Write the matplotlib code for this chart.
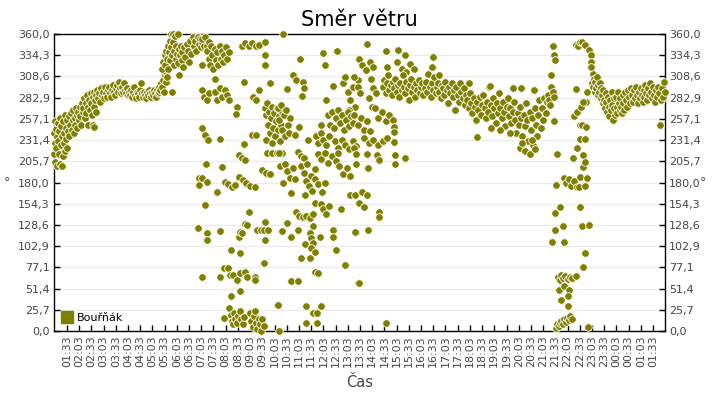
import matplotlib
matplotlib.use("Agg")
import matplotlib.pyplot as plt
from matplotlib.ticker import FixedLocator, FuncFormatter
from matplotlib.lines import Line2D

# čas v hodinách od půlnoci prvního dne (po půlnoci > 24), směr ve stupních
rano = [
    (1.03, 214), (1.04, 240), (1.05, 255), (1.07, 228), (1.08, 205), (1.10, 222), (1.12, 245),
    (1.14, 235), (1.15, 200), (1.17, 252), (1.19, 230), (1.21, 215), (1.23, 242), (1.25, 258),
    (1.27, 203), (1.29, 225), (1.32, 248), (1.34, 236), (1.36, 200), (1.38, 212), (1.40, 255),
    (1.42, 240), (1.44, 228), (1.46, 262), (1.48, 218), (1.50, 246), (1.52, 233), (1.55, 256),
    (1.57, 222), (1.60, 242), (1.62, 260), (1.65, 236), (1.68, 250), (1.72, 264), (1.75, 244),
    (1.78, 256), (1.80, 268), (1.83, 240), (1.86, 258), (1.89, 250), (1.92, 270), (1.95, 262),
    (1.98, 246), (2.01, 266), (2.04, 256), (2.07, 272), (2.10, 260), (2.13, 250), (2.16, 276),
    (2.19, 266), (2.22, 270), (2.25, 282), (2.28, 258), (2.31, 276), (2.34, 264), (2.37, 286),
    (2.40, 272), (2.43, 250), (2.46, 280), (2.49, 268), (2.52, 288), (2.55, 276), (2.58, 262),
    (2.61, 284), (2.62, 250), (2.64, 272), (2.66, 247), (2.67, 290), (2.70, 280), (2.73, 266),
    (2.76, 286), (2.80, 292), (2.84, 282), (2.88, 288), (2.92, 278), (2.96, 294), (3.00, 286),
    (3.04, 290), (3.08, 282), (3.12, 296), (3.16, 288), (3.20, 284), (3.24, 292), (3.28, 296),
    (3.32, 288), (3.36, 284), (3.40, 292), (3.44, 298), (3.48, 290), (3.52, 286), (3.56, 294),
    (3.60, 298), (3.64, 290), (3.68, 302), (3.72, 294), (3.76, 288), (3.80, 296), (3.84, 290),
    (3.88, 300), (3.92, 292), (3.96, 288), (4.00, 294), (4.04, 286), (4.08, 290), (4.14, 286),
    (4.18, 292), (4.22, 284), (4.26, 290), (4.30, 296), (4.34, 286), (4.38, 282), (4.42, 290),
    (4.46, 288), (4.50, 284), (4.54, 292), (4.58, 300), (4.62, 288), (4.66, 284), (4.70, 290),
    (4.74, 286), (4.78, 282), (4.82, 290), (4.86, 286), (4.90, 292), (4.94, 288), (4.98, 284),
    (5.02, 290), (5.06, 286), (5.10, 292), (5.14, 288), (5.18, 284), (5.22, 292), (5.26, 288),
    (5.30, 290), (5.34, 296), (5.38, 292), (5.42, 300), (5.46, 296), (5.50, 304), (5.52, 290),
    (5.56, 310), (5.60, 302), (5.62, 314), (5.66, 308), (5.85, 290),
    (5.45, 318), (5.50, 326), (5.55, 334), (5.58, 322), (5.62, 340), (5.65, 330), (5.68, 346),
    (5.70, 318), (5.72, 338), (5.75, 352), (5.78, 328), (5.80, 360), (5.82, 344), (5.85, 334),
    (5.88, 360), (5.90, 350), (5.92, 322), (5.95, 340), (5.98, 358), (6.00, 330), (6.02, 346),
    (6.05, 336), (6.08, 360), (6.10, 325), (6.12, 342), (6.15, 310), (6.18, 334), (6.22, 346),
    (6.25, 328), (6.28, 338), (6.32, 320), (6.35, 344), (6.40, 332), (6.45, 348), (6.50, 340),
    (6.55, 326), (6.60, 352), (6.65, 336), (6.70, 356), (6.75, 346), (6.80, 352), (6.85, 340),
    (6.90, 356), (6.95, 348), (7.00, 354), (7.05, 344), (7.10, 350), (7.15, 346),
]

boure = [
    (7.08, 354), (7.20, 356), (7.28, 346), (7.36, 350), (7.30, 340), (7.35, 330), (7.40, 322),
    (7.45, 345), (7.50, 335), (7.55, 318), (7.60, 342), (7.65, 328), (7.70, 338), (7.75, 322),
    (7.80, 346), (7.85, 330), (7.90, 340), (7.95, 326), (8.00, 334), (8.05, 344), (8.12, 330),
    (8.18, 338), (7.08, 322), (7.61, 305), (7.08, 292), (7.16, 284), (7.28, 280), (7.36, 288),
    (7.61, 290), (7.69, 280), (7.82, 294), (7.90, 284), (8.02, 292), (8.10, 286), (8.20, 280),
    (8.72, 346), (8.85, 349), (9.00, 345), (9.13, 349), (9.30, 345), (9.41, 347), (9.66, 350),
    (9.66, 335), (9.66, 322), (8.80, 302), (9.86, 300), (9.41, 292), (9.15, 284), (9.30, 280),
    (8.51, 271), (8.48, 263),
    (9.66, 270), (9.70, 262), (9.74, 276), (9.78, 250), (9.82, 266), (9.86, 240), (9.90, 258),
    (9.94, 272), (9.98, 246), (10.02, 264), (10.07, 236), (10.11, 254), (10.15, 270),
    (10.19, 244), (10.23, 260), (10.27, 230), (10.31, 250), (10.35, 266), (9.72, 232), (9.95, 228),
    (7.10, 246), (7.22, 238), (7.32, 232), (7.82, 233), (8.80, 227), (9.13, 238), (9.30, 238),
    (8.59, 213), (8.72, 210), (8.84, 207), (9.74, 216), (9.94, 216), (10.15, 216), (10.35, 216),
    (7.24, 202), (7.90, 199), (9.54, 195), (9.70, 192), (9.86, 190), (10.27, 200),
    (6.95, 185), (6.95, 177), (7.08, 185), (7.28, 181), (7.69, 168), (8.02, 181), (8.15, 178),
    (8.31, 175), (8.43, 177), (8.59, 187), (8.75, 183), (8.90, 179), (9.05, 176), (9.25, 175),
    (7.20, 153), (9.00, 144), (6.91, 125), (8.59, 114), (8.63, 120), (8.72, 119), (8.84, 130),
    (8.92, 128), (9.66, 132), (9.33, 122), (9.50, 122), (9.62, 122), (9.80, 122), (9.66, 110),
    (7.28, 119), (7.28, 110), (7.82, 121), (10.35, 121), (8.27, 98), (8.63, 95), (9.62, 82),
    (7.98, 76), (8.15, 76), (8.23, 68), (7.08, 65), (7.82, 65), (8.35, 68), (8.50, 62),
    (8.65, 70), (8.84, 72), (8.92, 65), (9.25, 65), (9.25, 62), (8.27, 42), (8.63, 48),
    (10.15, 32), (7.98, 16),
    (8.18, 28), (8.25, 20), (8.30, 12), (8.35, 8), (8.40, 22), (8.45, 15), (8.50, 10),
    (8.55, 18), (8.62, 24), (8.68, 14), (8.75, 8), (8.82, 17),
    (9.04, 22), (9.10, 12), (9.15, 5), (9.20, 18), (9.25, 24), (9.30, 10), (9.35, 2),
    (9.40, 15), (9.45, 8), (9.50, 0), (9.55, 14), (9.62, 6), (10.23, 0),
    (10.40, 360), (11.09, 330), (12.03, 337), (12.12, 322), (12.61, 339), (10.80, 310),
    (10.95, 304), (11.21, 302), (11.25, 294), (10.56, 293), (11.17, 285), (12.16, 280),
    (12.44, 297), (12.85, 300), (12.95, 308), (13.05, 290), (13.15, 280), (13.25, 296),
    (13.35, 272), (13.45, 304), (13.10, 268),
    (10.19, 270), (10.25, 256), (10.30, 274), (10.36, 244), (10.42, 262), (10.48, 236),
    (10.54, 268), (10.60, 250), (10.66, 240), (10.70, 258),
    (12.24, 262), (12.32, 250), (12.40, 266), (12.48, 246), (12.56, 258), (12.64, 268),
    (12.72, 252), (12.80, 262), (12.88, 244), (12.96, 256), (13.04, 266), (13.12, 248),
    (13.20, 260), (13.28, 252), (11.05, 247), (10.89, 238), (11.42, 232),
    (11.75, 236), (11.85, 228), (11.95, 240), (12.05, 232), (12.15, 226), (12.30, 236),
    (12.52, 230), (12.65, 222), (12.80, 232), (12.95, 226), (13.10, 220), (13.25, 230),
    (13.40, 224), (11.95, 250), (10.23, 216), (11.01, 217), (11.15, 212), (11.25, 210),
    (11.83, 214), (11.95, 208), (12.10, 216), (12.25, 204), (12.40, 212), (12.55, 206),
    (12.65, 216), (10.48, 202), (10.58, 194), (10.68, 186), (10.80, 198), (10.89, 184),
    (11.13, 200), (11.25, 192), (11.40, 202), (11.55, 188), (11.70, 196), (12.70, 200),
    (12.85, 190), (13.00, 198), (13.15, 188), (10.40, 179), (11.34, 182), (11.45, 176),
    (11.58, 170), (11.70, 184), (11.85, 178), (12.00, 168), (12.10, 180), (10.72, 167),
    (11.30, 165), (13.14, 165), (11.71, 155), (11.95, 154), (12.05, 148), (12.15, 142),
    (12.28, 152), (12.77, 148), (10.93, 144), (11.05, 140), (11.20, 138), (11.35, 139),
    (11.50, 137), (11.62, 142), (10.56, 131), (11.62, 127), (10.35, 121), (10.72, 114),
    (11.01, 122), (12.44, 122), (12.44, 114), (13.38, 120), (11.50, 119), (11.55, 113),
    (11.62, 107), (11.91, 114), (11.30, 105), (11.54, 101), (11.71, 96), (11.50, 88),
    (11.13, 88), (12.57, 98), (11.71, 72), (11.85, 70), (12.93, 80), (10.72, 61), (11.01, 61),
    (13.47, 58), (10.19, 32), (11.34, 30), (11.95, 30), (11.62, 22), (11.79, 22), (11.34, 10),
    (11.79, 10),
    (13.84, 348), (14.61, 340), (15.10, 341), (15.40, 335), (13.51, 330), (13.65, 322),
    (13.80, 316), (13.95, 326), (14.10, 320), (14.65, 320), (15.06, 326), (15.25, 318),
    (15.45, 314), (15.60, 324), (15.76, 318), (13.30, 308), (13.45, 296), (13.55, 288),
    (14.00, 306), (14.10, 294), (14.22, 288), (13.92, 282), (14.05, 272), (13.32, 262),
    (13.45, 250), (13.58, 258), (13.70, 244), (13.85, 254), (13.98, 242), (14.15, 270),
    (14.30, 258), (14.45, 266), (14.60, 254), (14.75, 262), (14.90, 256), (14.94, 247),
    (14.94, 241), (13.71, 234), (13.90, 228), (14.10, 232), (14.30, 226), (14.50, 230),
    (14.65, 234), (14.94, 229), (13.30, 222), (13.40, 214), (13.84, 214), (14.25, 213),
    (14.33, 207), (15.00, 213), (15.39, 210), (13.38, 202), (13.88, 198), (14.98, 202),
    (13.34, 165), (13.63, 168), (13.84, 165), (13.51, 155), (13.70, 150), (14.33, 144),
    (14.33, 138), (13.34, 120), (13.88, 122), (13.51, 58), (14.61, 10),
]

odpoledne = [
    (14.50, 296), (14.55, 304), (14.60, 288), (14.65, 300), (14.70, 310), (14.75, 292),
    (14.80, 298), (14.85, 286), (14.90, 302), (14.95, 294), (15.00, 306), (15.05, 290),
    (15.10, 298), (15.15, 284), (15.20, 300), (15.25, 292), (15.30, 310), (15.35, 296),
    (15.40, 288), (15.45, 302), (15.50, 294), (15.55, 280), (15.60, 298), (15.65, 306),
    (15.70, 290), (15.75, 296), (15.80, 284), (15.85, 300), (15.90, 292), (15.95, 304),
    (16.00, 288), (16.05, 296), (16.10, 300), (16.15, 286), (16.20, 294), (16.25, 302),
    (16.30, 290), (16.35, 312), (16.40, 296), (16.45, 284), (16.50, 300), (16.55, 292),
    (16.60, 308), (16.65, 288), (16.70, 296), (16.75, 300), (16.80, 290), (16.85, 282),
    (16.90, 298), (16.95, 294), (17.00, 286), (17.05, 302), (17.10, 292), (17.15, 276),
    (17.20, 296), (17.25, 288), (17.30, 300), (17.35, 284), (17.40, 292), (17.45, 268),
    (17.50, 296), (17.55, 286), (17.60, 278), (17.65, 300), (17.70, 290), (17.75, 282),
    (17.80, 294), (17.85, 274), (17.90, 286), (17.95, 280), (18.00, 270), (18.05, 288),
    (18.10, 276), (18.15, 264), (18.20, 282), (18.25, 272), (18.30, 256), (18.35, 278),
    (18.40, 268), (18.45, 284), (18.50, 262), (18.55, 274), (18.60, 286), (18.65, 270),
    (18.70, 258), (18.75, 278), (18.80, 266), (18.85, 296), (18.90, 274), (18.95, 260),
    (19.00, 282), (19.05, 270), (19.10, 252), (19.15, 276), (19.20, 264), (19.25, 288),
    (19.30, 270), (19.35, 258), (19.40, 278), (19.45, 266), (19.50, 248), (19.55, 272),
    (19.60, 282), (19.65, 260), (19.70, 270), (19.75, 252), (19.80, 266), (19.85, 278),
    (19.90, 256), (19.95, 240), (20.00, 264), (20.05, 250), (20.10, 272), (20.15, 258),
    (20.20, 236), (20.25, 262), (20.30, 248), (20.35, 276), (20.40, 256), (20.45, 230),
    (20.50, 266), (20.55, 244), (20.60, 258), (20.65, 226), (20.70, 270), (20.75, 250),
    (20.80, 236), (20.85, 262), (20.90, 280), (20.95, 246), (21.00, 270), (21.05, 256),
    (21.10, 282), (21.15, 264), (21.20, 278), (21.25, 286), (21.30, 280), (21.35, 274),
    (18.34, 235), (16.50, 320), (16.54, 332), (16.77, 310), (20.10, 222), (20.30, 218),
    (20.50, 214), (20.70, 220), (20.20, 228), (20.60, 232), (19.70, 240), (18.90, 246),
    (19.30, 244), (19.80, 294), (20.14, 294), (20.67, 292), (18.87, 297), (18.00, 300),
]

vecer = [
    (21.45, 345), (21.50, 335), (21.55, 328), (21.37, 310), (21.37, 296), (21.45, 290),
    (21.50, 284), (21.49, 255), (21.61, 214), (21.57, 177), (21.90, 186), (22.00, 180),
    (22.10, 184), (22.20, 176), (22.30, 182), (22.45, 174), (21.74, 150), (21.53, 143),
    (21.86, 127), (21.53, 122), (21.41, 108), (21.90, 108), (21.65, 66), (21.72, 62),
    (21.80, 68), (21.88, 64), (21.95, 67), (22.05, 63), (22.15, 66), (22.25, 64), (22.40, 67),
    (21.70, 50), (21.78, 38), (21.92, 55), (22.12, 50), (22.05, 42), (22.08, 30),
    (21.57, 4), (21.62, 8), (21.68, 6), (21.74, 10), (21.80, 12), (21.86, 9), (21.92, 14),
    (21.98, 11), (22.04, 16), (22.10, 13), (22.16, 18), (22.22, 15),
    (22.40, 347), (22.48, 345), (22.56, 350), (22.64, 350), (22.76, 347), (22.93, 341),
    (23.01, 335), (23.01, 326), (23.03, 320), (22.40, 293), (22.32, 260), (22.45, 266),
    (22.58, 272), (22.80, 278), (22.56, 250), (22.56, 233), (22.75, 233), (22.44, 222),
    (22.27, 210), (22.69, 213), (22.69, 199), (22.56, 187), (22.52, 175), (22.56, 150),
    (22.64, 127), (22.93, 128), (22.76, 95), (22.68, 78), (22.89, 5), (22.84, 290),
    (22.70, 278), (22.64, 250), (22.80, 247), (22.76, 205), (22.84, 185), (22.76, 176),
]

noc = [
    (23.05, 300), (23.08, 312), (23.10, 296), (23.13, 306), (23.16, 290), (23.19, 302),
    (23.22, 294), (23.25, 308), (23.28, 286), (23.31, 298), (23.34, 290), (23.37, 300),
    (23.40, 282), (23.43, 294), (23.46, 286), (23.49, 276), (23.52, 292), (23.55, 280),
    (23.58, 270), (23.61, 288), (23.64, 278), (23.67, 266), (23.70, 284), (23.73, 272),
    (23.76, 260), (23.79, 280), (23.82, 268), (23.85, 290), (23.88, 274), (23.91, 256),
    (23.94, 282), (23.97, 270), (24.00, 262), (24.03, 284), (24.06, 272), (24.09, 264),
    (24.12, 290), (24.15, 276), (24.18, 268), (24.21, 282), (24.24, 272), (24.27, 264),
    (24.30, 286), (24.33, 276), (24.36, 268), (24.40, 290), (24.44, 280), (24.48, 272),
    (24.52, 292), (24.56, 284), (24.60, 276), (24.64, 294), (24.68, 286), (24.72, 278),
    (24.76, 292), (24.80, 282), (24.84, 296), (24.88, 286), (24.92, 276), (24.96, 290),
    (25.00, 282), (25.04, 294), (25.08, 286), (25.12, 278), (25.16, 292), (25.20, 284),
    (25.24, 298), (25.28, 288), (25.32, 280), (25.36, 294), (25.40, 286), (25.44, 300),
    (25.48, 290), (25.52, 282), (25.56, 296), (25.60, 286), (25.64, 278), (25.68, 292),
    (25.72, 284), (25.76, 296), (25.80, 288), (25.84, 250), (25.88, 280), (25.92, 294),
    (25.96, 284), (26.00, 302), (26.02, 290),
]

seg = rano + boure + odpoledne + vecer + noc
cas = [p[0] for p in seg]
smer = [p[1] for p in seg]

OLIVA = "#808000"
SEDA = "#444444"

y_ticks = [360 / 14 * k for k in range(15)]
x_ticks = [1.55 + 0.5 * k for k in range(49)]


def fmt_cas(h, pos=None):
    m = int(round(h * 60))
    return f"{(m // 60) % 24:02d}:{m % 60:02d}"


fig = plt.figure(figsize=(7.2, 4.0), dpi=100)
ax = fig.add_axes([54 / 720, 1 - 331 / 400, 611 / 720, 297 / 400])

ax.scatter(cas, smer, s=30, c=OLIVA, edgecolors="white", linewidths=0.6,
           clip_on=False, zorder=3)

ax.set_xlim(1.02, 26.04)
ax.set_ylim(0, 360)
ax.yaxis.set_major_locator(FixedLocator(y_ticks))
ax.yaxis.set_major_formatter(FuncFormatter(lambda v, p: f"{v:.1f}".replace(".", ",")))
ax.xaxis.set_major_locator(FixedLocator(x_ticks))
ax.xaxis.set_major_formatter(FuncFormatter(fmt_cas))

ax.grid(axis="y", color="#ebebeb", linewidth=1.0, zorder=0)
ax.set_axisbelow(True)
ax.tick_params(axis="both", direction="in", length=4, width=1, color="black",
               labelsize=8, labelcolor=SEDA, pad=3)
ax.tick_params(axis="y", right=True, labelright=True)
ax.tick_params(axis="x", labelrotation=90)
for s in ax.spines.values():
    s.set_color("black")
    s.set_linewidth(1.0)

ax.set_title("Směr větru", fontsize=15, pad=6)
ax.set_xlabel("Čas", fontsize=10.5, color=SEDA, labelpad=6)
ax.set_ylabel("°", fontsize=9, color=SEDA, rotation=0, labelpad=8, va="center")
fig.text(700 / 720, 1 - 183 / 400, "°", fontsize=9, color=SEDA, va="center", ha="left")

handle = Line2D([], [], marker="s", linestyle="none", markersize=8,
                markerfacecolor=OLIVA, markeredgecolor=OLIVA)
ax.legend([handle], ["Bouřňák"], loc="lower left", frameon=False, fontsize=8,
          handletextpad=0.4, borderaxespad=0.3, handlelength=1.0)

fig.savefig("out.png", dpi=100)
